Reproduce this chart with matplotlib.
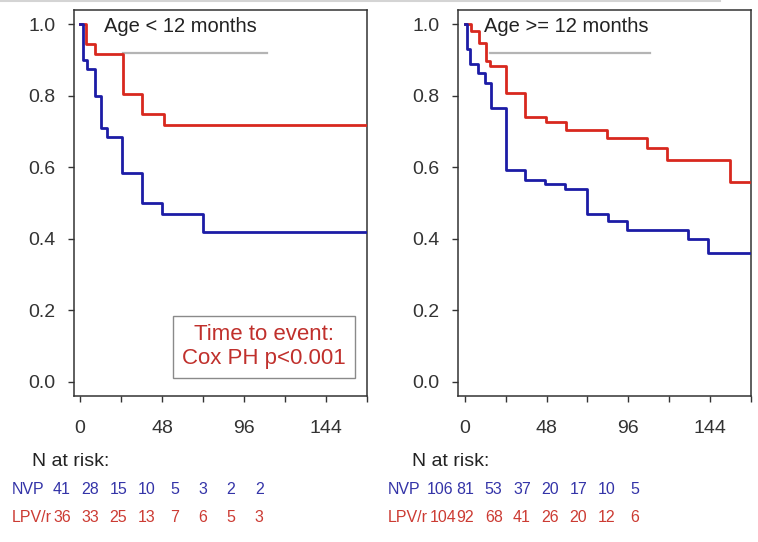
import matplotlib
matplotlib.use("Agg")
import matplotlib.pyplot as plt
from matplotlib.lines import Line2D

plt.rcParams['font.family'] = ['Liberation Sans', 'DejaVu Sans']

# ---- data ----
xticks_major = [0, 48, 96, 144]
xticks_minor = [24, 72, 120, 168]
yticks = [0.0, 0.2, 0.4, 0.6, 0.8, 1.0]

# Age < 12 months
lt12_nvp_t = [0, 1.6, 4.3, 8.8, 12.3, 16, 24.4, 36.5, 48.2, 72.2]
lt12_nvp_s = [1.0, 0.90, 0.876, 0.80, 0.71, 0.685, 0.585, 0.50, 0.468, 0.42]
lt12_lpv_t = [0, 3.5, 9, 25, 36.5, 49]
lt12_lpv_s = [1.0, 0.944, 0.917, 0.806, 0.75, 0.718]

# Age >= 12 months
ge12_nvp_t = [0, 1.4, 2.9, 7.8, 11.6, 15.5, 24.2, 35.3, 47, 59, 71.7, 83.9, 95, 130.8, 143]
ge12_nvp_s = [1.0, 0.93, 0.888, 0.865, 0.837, 0.765, 0.593, 0.565, 0.553, 0.539, 0.469, 0.449, 0.425, 0.399, 0.36]
ge12_lpv_t = [0, 3.9, 8.3, 12.2, 15, 24.2, 35.3, 47.5, 59.5, 83.7, 107, 118.6, 155.4]
ge12_lpv_s = [1.0, 0.981, 0.947, 0.896, 0.884, 0.809, 0.74, 0.728, 0.705, 0.683, 0.654, 0.621, 0.559]

risk_lt12_nvp = [41, 28, 15, 10, 5, 3, 2, 2]
risk_lt12_lpv = [36, 33, 25, 13, 7, 6, 5, 3]
risk_ge12_nvp = [106, 81, 53, 37, 20, 17, 10, 5]
risk_ge12_lpv = [104, 92, 68, 41, 26, 20, 12, 6]

titles = ["Age < 12 months", "Age >= 12 months"]
row_labels = ["NVP", "LPV/r"]

# ---- style ----
BLUE = "#1c1ca6"
RED = "#d8281e"
BLUE_T = "#3434a8"
RED_T = "#cc3b33"
GRAY = "#b4b4b4"
DARK = "#333333"

W, H = 758, 542
fig = plt.figure(figsize=(W / 100, H / 100), dpi=100)

def fx(px):
    return px / W

def fy(py):
    return 1 - py / H

# faint strip at the very top of the reference
fig.add_artist(Line2D([0, fx(720)], [fy(1), fy(1)], color="#d4d4d4", lw=1.5))

ax_specs = [
    dict(x0=74, x1=367, xlim=(-3.5, 168), data=(lt12_nvp_t, lt12_nvp_s, lt12_lpv_t, lt12_lpv_s),
         gray=(25, 109.5), title_x=14),
    dict(x0=458, x1=751, xlim=(-4, 167), data=(ge12_nvp_t, ge12_nvp_s, ge12_lpv_t, ge12_lpv_s),
         gray=(14.5, 109), title_x=11),
]

axes = []
for i, spec in enumerate(ax_specs):
    ax = fig.add_axes([fx(spec['x0']), fy(396), (spec['x1'] - spec['x0']) / W, (396 - 10) / H])
    axes.append(ax)
    nt, ns, lt, ls = spec['data']
    xmax = spec['xlim'][1]
    ax.step(list(lt) + [xmax], list(ls) + [ls[-1]], where='post', color=RED, lw=2.0, zorder=3)
    ax.step(list(nt) + [xmax], list(ns) + [ns[-1]], where='post', color=BLUE, lw=2.0, zorder=4)
    ax.plot(list(spec['gray']), [0.92, 0.92], color=GRAY, lw=1.6, zorder=2)
    ax.text(spec['title_x'], 0.993, titles[i], fontsize=14.5, color="#222222", va='center', ha='left')
    ax.set_xlim(*spec['xlim'])
    ax.set_ylim(-0.04, 1.04)
    ax.set_xticks(xticks_major)
    ax.set_xticks(xticks_minor, minor=True)
    ax.set_xticklabels([str(v) for v in xticks_major])
    ax.set_yticks(yticks)
    ax.set_yticklabels([f"{v:.1f}" for v in yticks])
    ax.tick_params(axis='x', which='major', direction='out', length=4, width=1, pad=13.5,
                   labelsize=14, colors=DARK)
    ax.tick_params(axis='x', which='minor', direction='out', length=4, width=1, colors=DARK)
    ax.tick_params(axis='y', direction='out', length=4.5, width=1, pad=9, labelsize=14, colors=DARK)
    for s in ax.spines.values():
        s.set_color(DARK)
        s.set_linewidth(1.1)

axes[0].text(107.7, 0.098, "Time to event:\nCox PH p<0.001", fontsize=16, color="#c0302c",
             ha='center', va='center', linespacing=1.15,
             bbox=dict(boxstyle='square,pad=0.4', fc='white', ec='#8a8a8a', lw=1))

# ---- N at risk tables ----
tables = [
    dict(label_x=12, col0=(62, 62), start=90, rows=(risk_lt12_nvp, risk_lt12_lpv), title_x=32),
    dict(label_x=388, col0=(440, 443), start=465.5, rows=(risk_ge12_nvp, risk_ge12_lpv), title_x=412),
]
row_y = [490, 518]
row_colors = [BLUE_T, RED_T]
for tb in tables:
    fig.text(fx(tb['title_x']), fy(461), "N at risk:", fontsize=14, color="#222222", va='center', ha='left')
    for r in range(2):
        fig.text(fx(tb['label_x']), fy(row_y[r]), row_labels[r], fontsize=11.5, color=row_colors[r],
                 va='center', ha='left')
        vals = tb['rows'][r]
        for j, v in enumerate(vals):
            cx = tb['col0'][r] if j == 0 else tb['start'] + 28.2 * (j - 1)
            fig.text(fx(cx), fy(row_y[r]), str(v), fontsize=11.5, color=row_colors[r],
                     va='center', ha='center')

fig.savefig("out.png", dpi=100)
